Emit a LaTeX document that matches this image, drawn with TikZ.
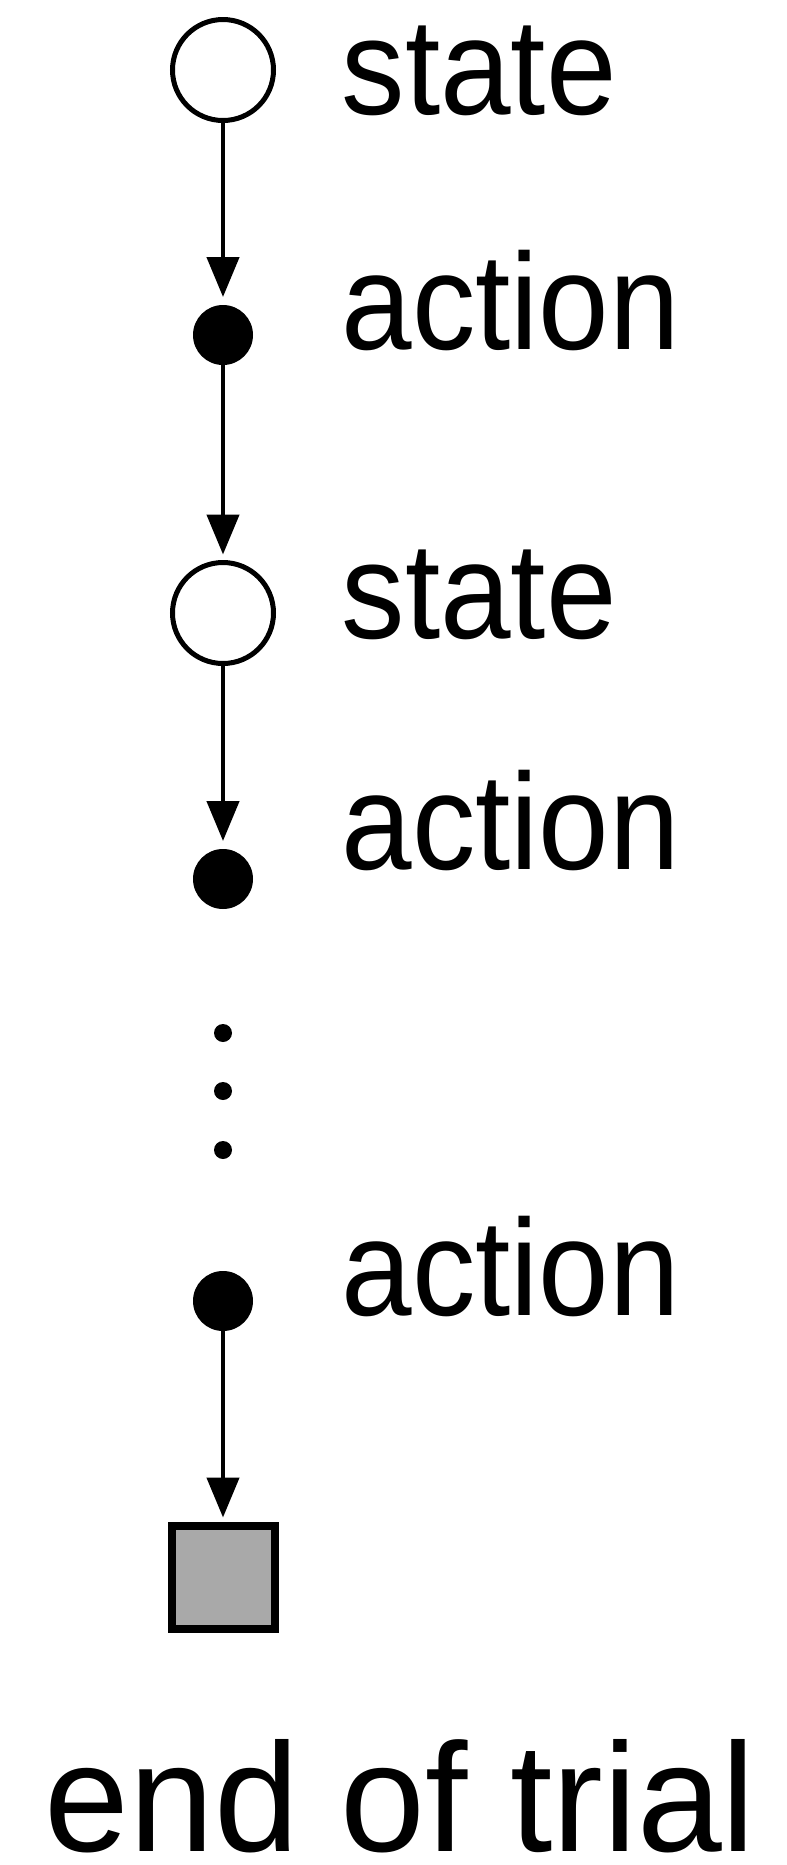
\documentclass[tikz,border=0pt]{standalone}
\usepackage{fontspec}
\newfontfamily\labelfont{Liberation Sans}[FakeStretch=0.925]
\newfontfamily\endfont{Liberation Sans}[FakeStretch=0.985]
\usetikzlibrary{arrows.meta, positioning}
\definecolor{endgray}{HTML}{A9A9A9}

\begin{document}
\begin{tikzpicture}[
  x=0.1mm, y=-0.1mm,
  statenode/.style={draw, circle, line width=0.5mm, minimum size=10.1mm, inner sep=0pt, outer sep=0pt, fill=white},
  actnode/.style={circle, fill=black, minimum size=6mm, inner sep=0pt, outer sep=0pt},
  dotnode/.style={circle, fill=black, minimum size=1.8mm, inner sep=0pt, outer sep=0pt},
  endnode/.style={draw, line width=0.8mm, fill=endgray, minimum size=10.3mm, inner sep=0pt, outer sep=0pt},
  lbl/.style={anchor=base west, inner sep=0pt, font=\labelfont\fontsize{39}{39}\selectfont},
  endlbl/.style={anchor=base west, inner sep=0pt, font=\endfont\fontsize{44}{44}\selectfont},
  line/.style={-{Triangle[length=4mm, width=3.2mm]}, line width=0.45mm, shorten >=0.8mm},
  on grid
]
\useasboundingbox (0,0) rectangle (787,1865);

\node[statenode] (s1) at (223,70) {};
\node[actnode, below=26.5mm of s1] (a1) {};
\node[statenode, below=27.8mm of a1] (s2) {};
\node[actnode, below=26.6mm of s2] (a2) {};

\node[dotnode, below=15.4mm of a2] (d1) {};
\node[dotnode, below=5.8mm of d1] (d2) {};
\node[dotnode, below=5.9mm of d2] (d3) {};

\node[actnode, below=15.1mm of d3] (a3) {};
\node[endnode, below=27.6mm of a3] (trialend) {};

\draw[line] (s1) -- (a1);
\draw[line] (a1) -- (s2);
\draw[line] (s2) -- (a2);
\draw[line] (a3) -- (trialend);

\node[lbl] (ls1) at (341,114) {state};
\node[lbl] (la1) at (341,349) {action};
\node[lbl] (ls2) at (341,638) {state};
\node[lbl] (la2) at (341,869) {action};
\node[lbl] (la3) at (341,1315) {action};

\node[endlbl] (lend) at (44,1851) {end of trial};
\end{tikzpicture}
\end{document}
